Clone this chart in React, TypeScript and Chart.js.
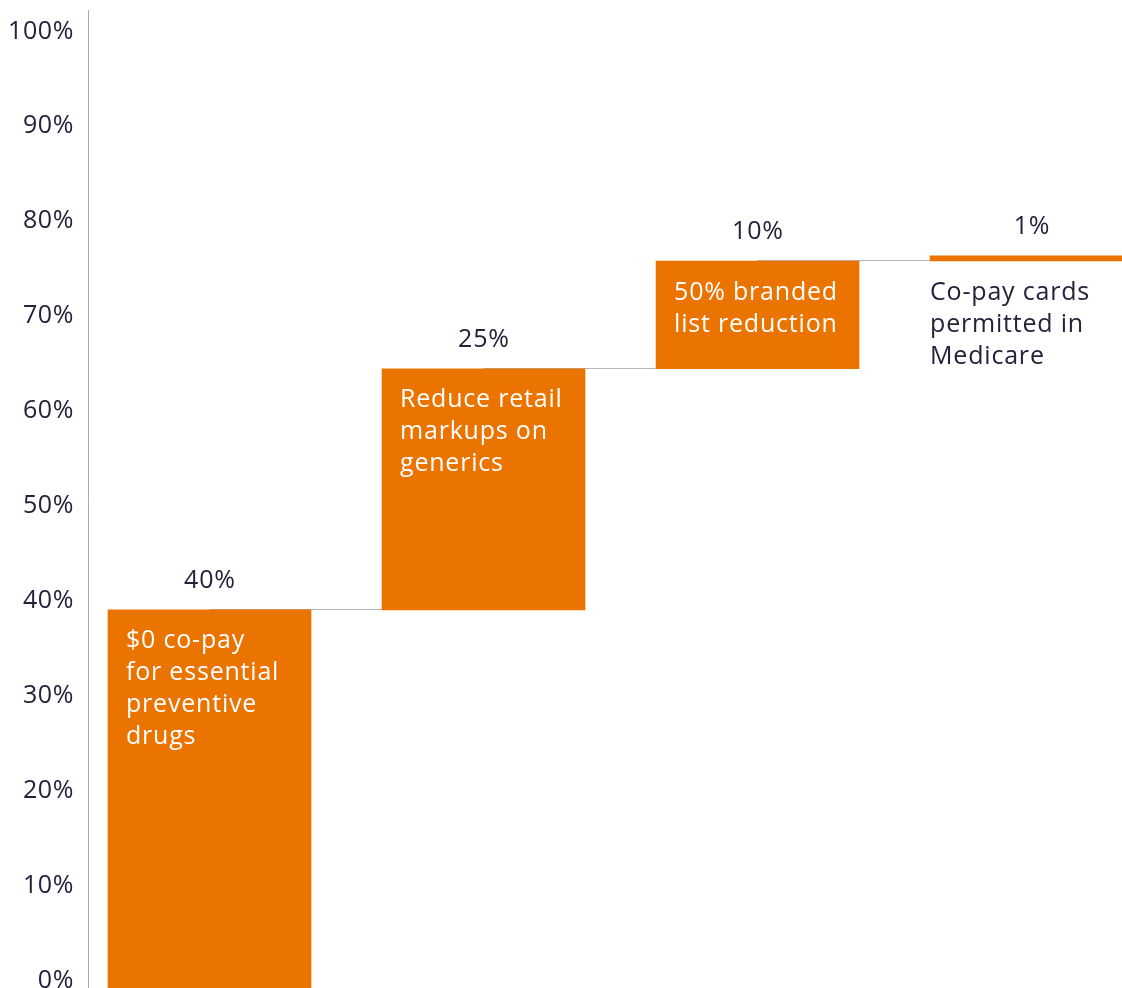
import React, { useEffect, useRef } from "react";
import { Chart, registerables } from "chart.js";

Chart.register(...registerables);

// ---- data ----
const categories: string[][] = [
  ["$0 co-pay", "for essential", "preventive", "drugs"],
  ["Reduce retail", "markups on", "generics"],
  ["50% branded", "list reduction"],
  ["Co-pay cards", "permitted in", "Medicare"],
];
const stepValues: number[] = [39.9, 25.4, 11.35, 0.56];
const valueLabels: string[] = ["40%", "25%", "10%", "1%"];
const textInside: boolean[] = [true, true, true, false];
const yTicks: number[] = [0, 10, 20, 30, 40, 50, 60, 70, 80, 90, 100];

const ORANGE = "#EB7300";
const DARK = "#22223a";
const FONT = "'Open Sans', 'Noto Sans', sans-serif";

const starts: number[] = [];
{
  let acc = 0;
  for (const v of stepValues) {
    starts.push(acc);
    acc += v;
  }
}

const waterfallPlugin = {
  id: "waterfallDecor",
  beforeDraw(chart: any) {
    (chart.ctx as any).letterSpacing = "0.6px";
  },
  beforeDatasetsDraw(chart: any) {
    const meta = chart.getDatasetMeta(0);
    const yScale = chart.scales.y;
    const ctx = chart.ctx;
    ctx.save();
    ctx.strokeStyle = "#b5b5bd";
    ctx.lineWidth = 1;
    for (let i = 0; i < meta.data.length - 1; i++) {
      const a = meta.data[i];
      const b = meta.data[i + 1];
      const level = starts[i] + stepValues[i];
      const y = Math.round(yScale.getPixelForValue(level)) - 0.5;
      ctx.beginPath();
      ctx.moveTo(a.x, y);
      ctx.lineTo(b.x, y);
      ctx.stroke();
    }
    ctx.restore();
  },
  afterDatasetsDraw(chart: any) {
    const meta = chart.getDatasetMeta(0);
    const ctx = chart.ctx;
    ctx.save();
    ctx.font = `400 25px ${FONT}`;
    (ctx as any).letterSpacing = "0.8px";
    ctx.textBaseline = "alphabetic";
    meta.data.forEach((el: any, i: number) => {
      const top = Math.min(el.y, el.base);
      const bottom = Math.max(el.y, el.base);
      const left = el.x - el.width / 2;
      ctx.fillStyle = DARK;
      ctx.textAlign = "center";
      ctx.fillText(valueLabels[i], el.x + 0.4, top - 22);
      ctx.textAlign = "left";
      const inside = textInside[i];
      ctx.fillStyle = inside ? "#ffffff" : DARK;
      const anchor = inside ? top : bottom;
      const x = inside ? left + 18 : left;
      categories[i].forEach((line, j) => {
        ctx.fillText(line, x, anchor + 38.5 + j * 32);
      });
    });
    ctx.restore();
  },
};

export default function App() {
  const ref = useRef<HTMLCanvasElement | null>(null);
  useEffect(() => {
    if (!ref.current) return;
    const chart = new Chart(ref.current, {
      type: "bar",
      data: {
        datasets: [
          {
            data: stepValues.map((v, i) => ({ x: i, y: [starts[i], starts[i] + v] })) as any,
            backgroundColor: ORANGE,
            borderWidth: 0,
            barThickness: 203,
          },
        ],
      },
      options: {
        animation: false,
        responsive: false,
        devicePixelRatio: 1,
        layout: { padding: { top: 10, bottom: 11.5, left: 0, right: 0 } },
        plugins: { legend: { display: false }, tooltip: { enabled: false } },
        scales: {
          x: {
            type: "linear",
            min: -0.4434,
            max: 3.33,
            offset: false,
            display: false,
          },
          y: {
            min: 0,
            max: 103.1,
            afterBuildTicks: (s: any) => {
              s.ticks = yTicks.map((v) => ({ value: v }));
            },
            afterFit: (s: any) => {
              s.width = 88;
              s.paddingTop = 0;
              s.paddingBottom = 0;
            },
            grid: { color: "rgba(0,0,0,0)", drawTicks: false },
            border: { display: true, color: "#a9a9b1", width: 1 },
            ticks: {
              callback: (v: any) => `${v}%`,
              color: DARK,
              padding: 14,
              labelOffset: -8,
              font: { family: FONT, size: 25, weight: "400" as any },
            },
          },
        },
      },
      plugins: [waterfallPlugin],
    });
    return () => chart.destroy();
  }, []);
  return (
    <div
      style={{
        position: "fixed",
        left: 0,
        top: 0,
        width: 1122,
        height: 988,
        overflow: "hidden",
        background: "#fff",
      }}
    >
      <canvas ref={ref} width={1122} height={1000} style={{ display: "block", width: 1122, height: 1000 }} />
    </div>
  );
}
